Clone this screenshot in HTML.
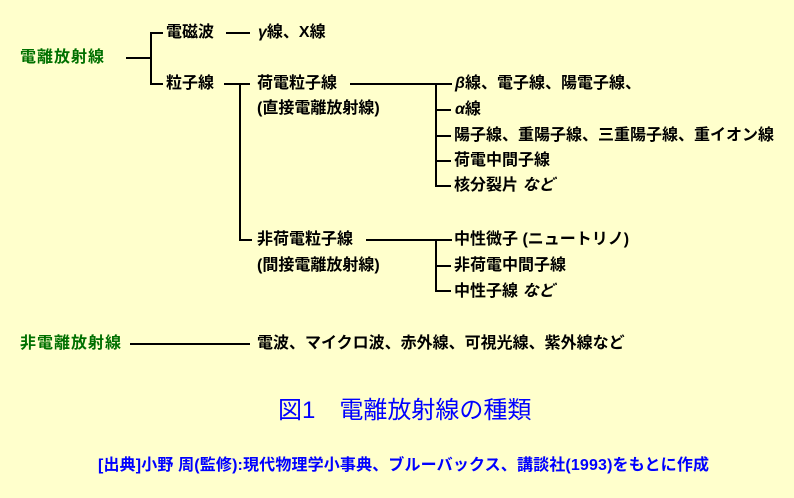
<!DOCTYPE html>
<html><head><meta charset="utf-8"><style>
body{margin:0;width:794px;height:498px;background:#ffffcc;position:relative;overflow:hidden;font-family:"Liberation Sans","Noto Sans CJK JP",sans-serif;}
.t{position:absolute;font-size:16px;font-weight:bold;line-height:18px;white-space:nowrap;color:#000;}
.g{color:#007000;letter-spacing:1px;}
.l{position:absolute;background:#000;}
</style></head><body>
<div class="t g" style="left:20px;top:49px">電離放射線</div>
<div class="l" style="left:126px;top:57px;width:25px;height:2px"></div>
<div class="l" style="left:150px;top:32px;width:2px;height:53px"></div>
<div class="l" style="left:150px;top:32px;width:13px;height:2px"></div>
<div class="l" style="left:150px;top:83px;width:13px;height:2px"></div>
<div class="t" style="left:166px;top:24px">電磁波</div>
<div class="l" style="left:226px;top:32px;width:24px;height:2px"></div>
<div class="t" style="left:258px;top:24px"><i>γ</i>線、X線</div>
<div class="t" style="left:166px;top:75px">粒子線</div>
<div class="l" style="left:224px;top:83px;width:26px;height:2px"></div>
<div class="l" style="left:239px;top:83px;width:2px;height:158px"></div>
<div class="l" style="left:239px;top:239px;width:13px;height:2px"></div>
<div class="t" style="left:257px;top:75px">荷電粒子線</div>
<div class="t" style="left:257px;top:100px">(直接電離放射線)</div>
<div class="l" style="left:350px;top:83px;width:102px;height:2px"></div>
<div class="l" style="left:435px;top:83px;width:2px;height:104px"></div>
<div class="l" style="left:435px;top:109px;width:16px;height:2px"></div>
<div class="l" style="left:435px;top:135px;width:16px;height:2px"></div>
<div class="l" style="left:435px;top:160px;width:16px;height:2px"></div>
<div class="l" style="left:435px;top:185px;width:16px;height:2px"></div>
<div class="t" style="left:455px;top:75px"><i>β</i>線、電子線、陽電子線、</div>
<div class="t" style="left:455px;top:101px"><i>α</i>線</div>
<div class="t" style="left:454px;top:127px">陽子線、重陽子線、三重陽子線、重イオン線</div>
<div class="t" style="left:454px;top:152px">荷電中間子線</div>
<div class="t" style="left:454px;top:177px">核分裂片 <i>など</i></div>
<div class="t" style="left:257px;top:231px">非荷電粒子線</div>
<div class="t" style="left:257px;top:257px">(間接電離放射線)</div>
<div class="l" style="left:366px;top:239px;width:86px;height:2px"></div>
<div class="l" style="left:435px;top:239px;width:2px;height:53px"></div>
<div class="l" style="left:435px;top:265px;width:16px;height:2px"></div>
<div class="l" style="left:435px;top:290px;width:16px;height:2px"></div>
<div class="t" style="left:454px;top:231px">中性微子 (ニュートリノ)</div>
<div class="t" style="left:454px;top:257px">非荷電中間子線</div>
<div class="t" style="left:454px;top:283px">中性子線 <i>など</i></div>
<div class="t g" style="left:20px;top:335px">非電離放射線</div>
<div class="l" style="left:130px;top:343px;width:120px;height:2px"></div>
<div class="t" style="left:257px;top:335px">電波、マイクロ波、赤外線、可視光線、紫外線など</div>
<div class="t" style="left:278px;top:397px;font-size:24px;line-height:28px;color:#0000ff;font-weight:normal">図1　電離放射線の種類</div>
<div class="t" style="left:98px;top:457px;font-size:16px;color:#0000ff;letter-spacing:0.15px">[出典]小野 周(監修):現代物理学小事典、ブルーバックス、講談社(1993)をもとに作成</div>
</body></html>
